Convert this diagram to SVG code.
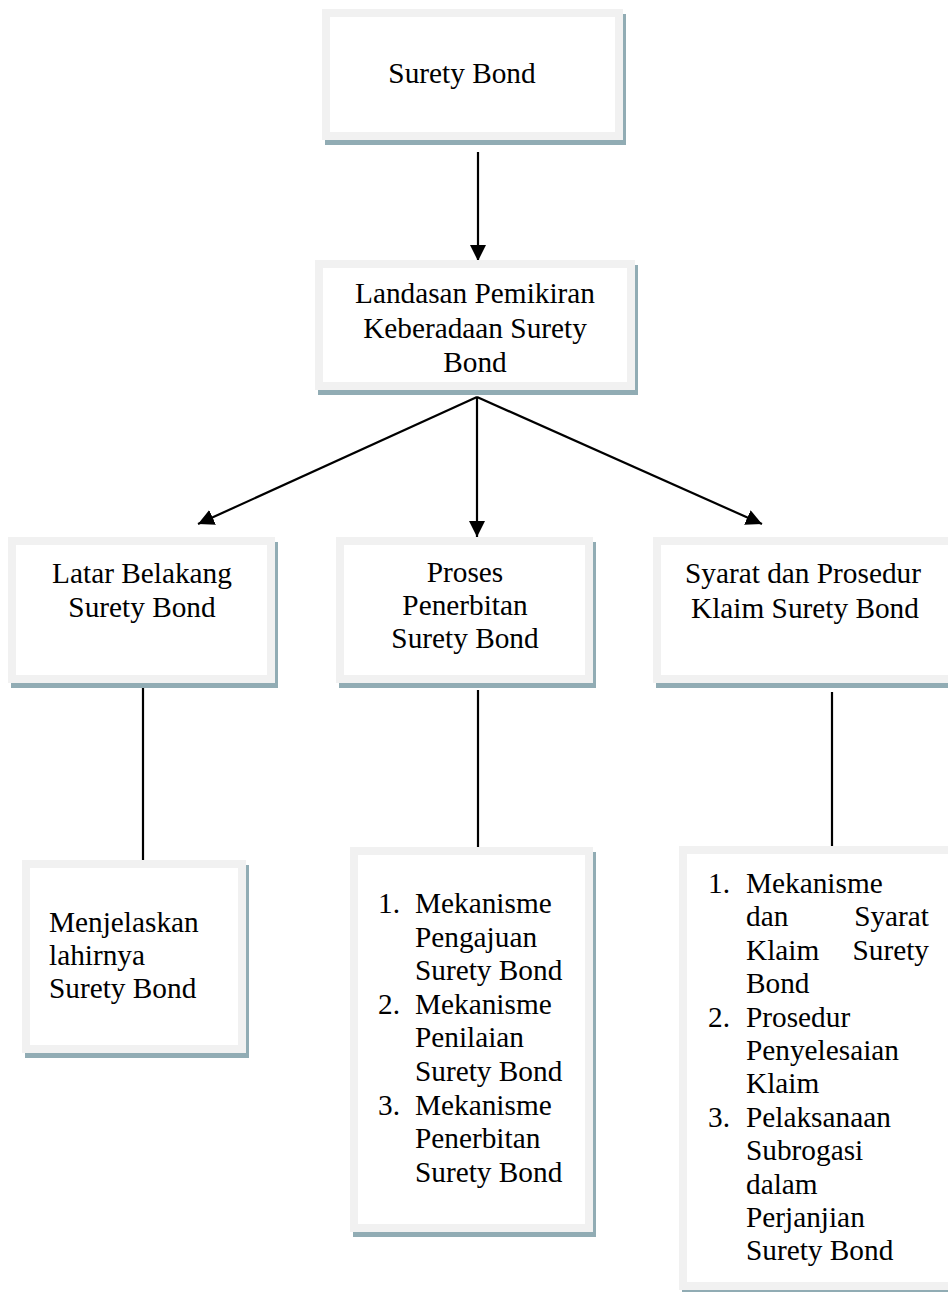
<svg xmlns="http://www.w3.org/2000/svg" width="948" height="1292" viewBox="0 0 948 1292">
<defs>
<style>
.sh{fill:#91acb4}
.bx{fill:#ffffff;stroke:#f1f1f1;stroke-width:8}
.t{font-family:"Liberation Serif","Times New Roman",serif;font-size:29.3px;fill:#000}
.c{text-anchor:middle}
.ln{stroke:#000;stroke-width:2.2;fill:none}
</style>
<marker id="ah" markerUnits="userSpaceOnUse" markerWidth="18" markerHeight="18" refX="16" refY="8" orient="auto">
<path d="M0,0 L16,8 L0,16 Z" fill="#000"/>
</marker>
</defs>
<rect width="948" height="1292" fill="#fff"/>

<g id="connectors">
<line class="ln" x1="478" y1="152" x2="478" y2="261" marker-end="url(#ah)"/>
<line class="ln" x1="477" y1="397" x2="198" y2="524" marker-end="url(#ah)"/>
<line class="ln" x1="477" y1="397" x2="477" y2="537" marker-end="url(#ah)"/>
<line class="ln" x1="477" y1="397" x2="762" y2="524" marker-end="url(#ah)"/>
<line class="ln" x1="143" y1="688" x2="143" y2="860"/>
<line class="ln" x1="478" y1="690" x2="478" y2="847"/>
<line class="ln" x1="832" y1="692" x2="832" y2="846"/>
</g>

<g id="node-surety-bond">
<rect class="sh" x="325" y="14" width="301" height="131"/>
<rect class="bx" x="326" y="13" width="293" height="123"/>
<text class="t c" x="462" y="83">Surety Bond</text>
</g>

<g id="node-landasan">
<rect class="sh" x="318" y="265" width="320" height="130"/>
<rect class="bx" x="319" y="264" width="312" height="122"/>
<text class="t c" x="475" y="303">Landasan Pemikiran</text>
<text class="t c" x="475" y="338">Keberadaan Surety</text>
<text class="t c" x="475" y="372">Bond</text>
</g>

<g id="node-latar">
<rect class="sh" x="11" y="542" width="267" height="146"/>
<rect class="bx" x="12" y="541" width="259" height="138"/>
<text class="t c" x="142" y="583">Latar Belakang</text>
<text class="t c" x="142" y="617">Surety Bond</text>
</g>

<g id="node-proses">
<rect class="sh" x="339" y="542" width="257" height="146"/>
<rect class="bx" x="340" y="541" width="249" height="138"/>
<text class="t c" x="465" y="582">Proses</text>
<text class="t c" x="465" y="615">Penerbitan</text>
<text class="t c" x="465" y="648">Surety Bond</text>
</g>

<g id="node-syarat">
<rect class="sh" x="656" y="542" width="305" height="146"/>
<rect class="bx" x="657" y="541" width="297" height="138"/>
<text class="t c" x="803" y="583">Syarat dan Prosedur</text>
<text class="t c" x="805" y="618">Klaim Surety Bond</text>
</g>

<g id="node-menjelaskan">
<rect class="sh" x="25" y="865" width="224" height="193"/>
<rect class="bx" x="26" y="864" width="216" height="185"/>
<text class="t" x="49" y="932">Menjelaskan</text>
<text class="t" x="49" y="965">lahirnya</text>
<text class="t" x="49" y="998">Surety Bond</text>
</g>

<g id="node-mekanisme-penerbitan">
<rect class="sh" x="353" y="852" width="243" height="385"/>
<rect class="bx" x="354" y="851" width="235" height="377"/>
<text class="t" x="378" y="913">1.</text>
<text class="t" x="415" y="913">Mekanisme</text>
<text class="t" x="415" y="946.6">Pengajuan</text>
<text class="t" x="415" y="980.2">Surety Bond</text>
<text class="t" x="378" y="1013.8">2.</text>
<text class="t" x="415" y="1013.8">Mekanisme</text>
<text class="t" x="415" y="1047.4">Penilaian</text>
<text class="t" x="415" y="1081">Surety Bond</text>
<text class="t" x="378" y="1114.6">3.</text>
<text class="t" x="415" y="1114.6">Mekanisme</text>
<text class="t" x="415" y="1148.2">Penerbitan</text>
<text class="t" x="415" y="1181.8">Surety Bond</text>
</g>

<g id="node-klaim">
<rect class="sh" x="682" y="851" width="279" height="444"/>
<rect class="bx" x="683" y="850" width="271" height="436"/>
<text class="t" x="708" y="893">1.</text>
<text class="t" x="746" y="893">Mekanisme</text>
<text class="t" x="746" y="926.4">dan</text>
<text class="t" x="929" y="926.4" text-anchor="end">Syarat</text>
<text class="t" x="746" y="959.8">Klaim</text>
<text class="t" x="929" y="959.8" text-anchor="end">Surety</text>
<text class="t" x="746" y="993.2">Bond</text>
<text class="t" x="708" y="1026.6">2.</text>
<text class="t" x="746" y="1026.6">Prosedur</text>
<text class="t" x="746" y="1060">Penyelesaian</text>
<text class="t" x="746" y="1093.4">Klaim</text>
<text class="t" x="708" y="1126.8">3.</text>
<text class="t" x="746" y="1126.8">Pelaksanaan</text>
<text class="t" x="746" y="1160.2">Subrogasi</text>
<text class="t" x="746" y="1193.6">dalam</text>
<text class="t" x="746" y="1227">Perjanjian</text>
<text class="t" x="746" y="1260.4">Surety Bond</text>
</g>
</svg>
